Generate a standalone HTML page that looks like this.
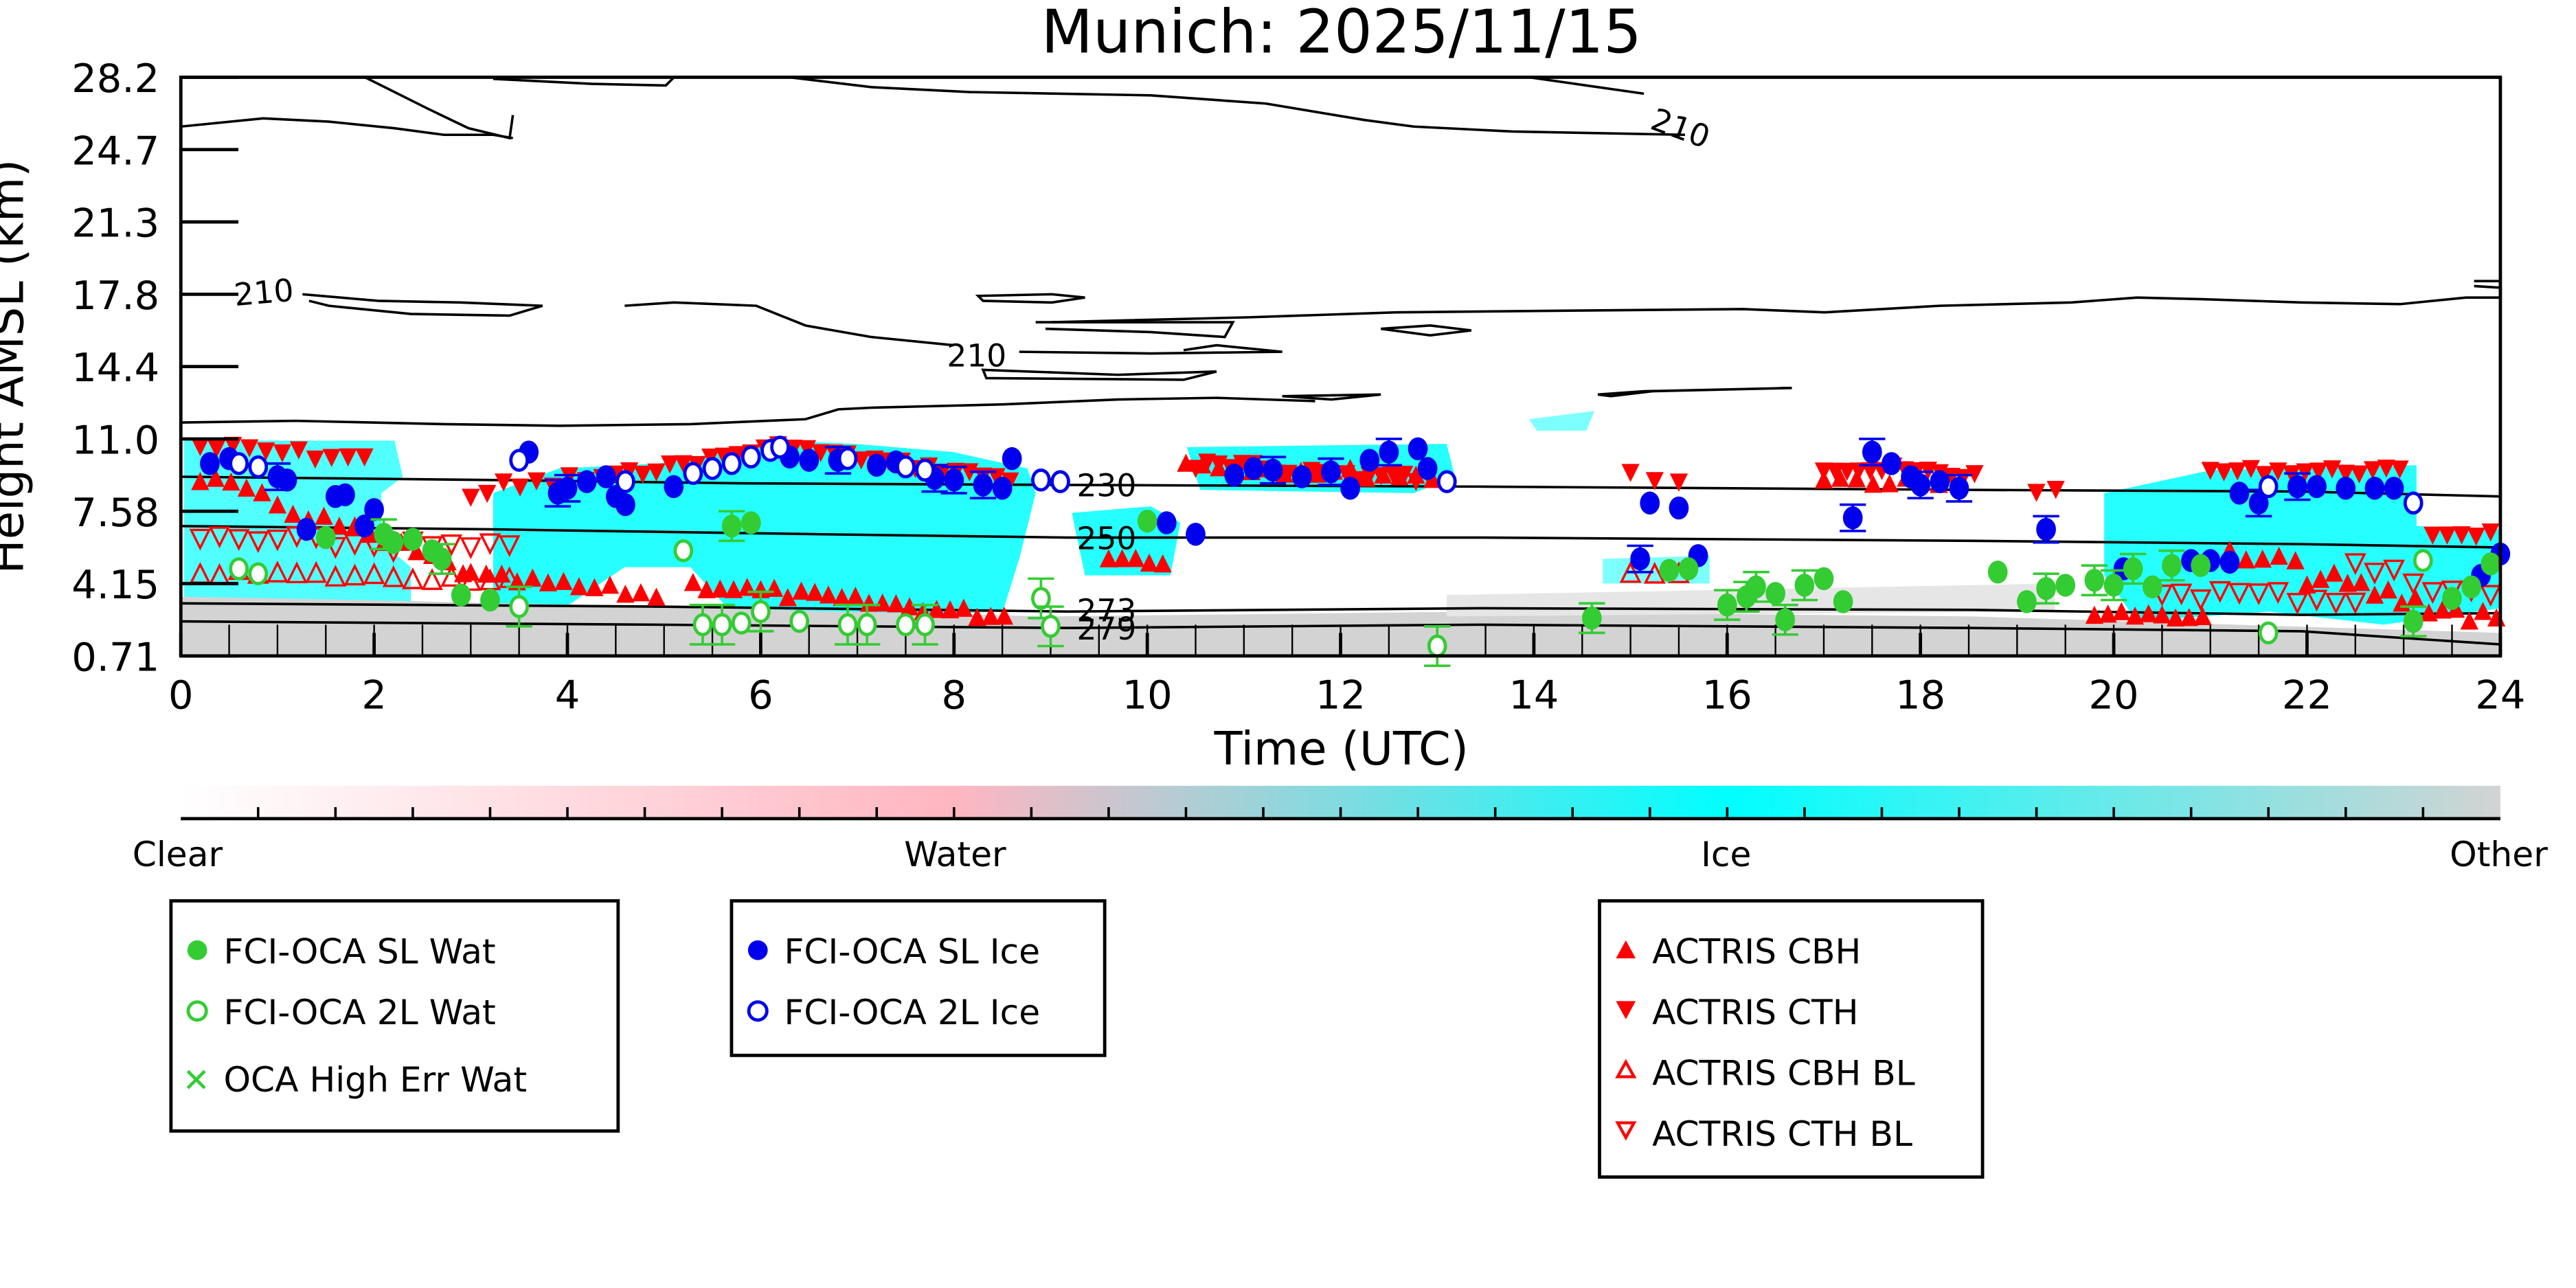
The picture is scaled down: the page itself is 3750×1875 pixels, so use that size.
<!DOCTYPE html>
<html><head><meta charset="utf-8"><style>
html,body{margin:0;padding:0;background:#fff}
svg{display:block}
text{font-family:"DejaVu Sans","Liberation Sans",sans-serif}
</style></head><body>
<svg id="s" xmlns="http://www.w3.org/2000/svg" width="3750" height="1875" viewBox="0 0 1567 783.5" preserveAspectRatio="none">
<defs>
<linearGradient id="cb" x1="0" x2="1" y1="0" y2="0">
<stop offset="0" stop-color="#ffffff"/>
<stop offset="0.333" stop-color="#ffb6c1"/>
<stop offset="0.5" stop-color="#80dbe0"/>
<stop offset="0.667" stop-color="#00ffff"/>
<stop offset="1" stop-color="#d3d3d3"/>
</linearGradient>
</defs>
<text x="816" y="32" font-size="36.5" text-anchor="middle">Munich: 2025/11/15</text>
<g fill="#00ffff" opacity="0.85">
<path d="M112,268 L240,268 L245,290 L232,300 L232,330 L250,345 L250,372 L112,372 Z" opacity="0.8"/>
<path d="M300,300 L340,285 L400,282 L440,275 L470,268 L520,270 L580,275 L625,285 L630,300 L620,340 L610,372 L450,378 L420,345 L380,345 L340,372 L300,372 Z"/>
<path d="M652,312 L700,308 L718,318 L712,350 L660,350 Z"/>
<path d="M722,272 L880,270 L885,290 L860,300 L730,298 Z"/>
<path d="M1280,300 L1345,286 L1470,283 L1470,320 L1521,322 L1521,370 L1450,380 L1380,372 L1300,378 L1280,350 Z"/>
<path d="M975,340 L1040,338 L1040,355 L975,355 Z" opacity="0.6"/>
<path d="M930,255 L970,250 L965,262 L935,262 Z" opacity="0.6"/>
</g>
<path d="M110,363 C300,366 500,372 640,375 L900,372 L1200,375 L1521,385 L1521,399 L110,399 Z" fill="#d3d3d3"/>
<path d="M880,362 L1250,355 L1250,372 L880,375 Z" fill="#e6e6e6"/>
<g id="bt" stroke="#000" stroke-width="1"></g>
<g fill="none" stroke="#000" stroke-width="1.5">
<path d="M110,77 L160,72 L200,74 L240,78 L270,82 L300,82 L312,84"/>
<path d="M222,47 L260,66 L285,78 L310,84 L312,70"/>
<path d="M300,48 L360,51 L405,52 L410,47"/>
<path d="M480,47 L530,53 L590,56 L700,58 L770,63 L830,73 L860,77 L920,80 L1025,82"/>
<path d="M930,47 L1000,57"/>
<path d="M184,179 L230,183 L280,184 L330,186 L310,192 L250,191 L200,186 L188,183"/>
<path d="M380,186 L410,184 L460,186 L490,198 L530,205 L580,210"/>
<path d="M620,214 L700,215 L780,214 L740,210 L720,213"/>
<path d="M598,225 L680,228 L740,226 L720,231 L600,230 Z"/>
<path d="M630,196 L700,196 L750,196 L745,205 L700,202 L636,200"/>
<path d="M640,196 L760,193 L850,190 L950,189 L1060,188 L1110,190 L1180,186 L1260,184 L1300,181 L1340,182 L1400,184 L1460,185 L1500,181 L1521,181"/>
<path d="M595,180 L640,179 L660,181 L640,184 L598,183 Z"/>
<path d="M840,200 L870,198 L895,201 L870,204 Z"/>
<path d="M780,241 L840,240 L810,243 Z"/>
<path d="M972,240 L1000,238 L1090,236 L1005,238 L980,241 Z"/>
<path d="M1505,171 L1521,171 M1505,174 L1521,175"/>
<path d="M110,257 L180,256 L270,258 L340,259 L420,258 L490,255 L510,249 L530,248 L610,246 L680,243 L740,242 L800,244"/>
<path d="M110,290 L300,292 L450,294 L650,295 L900,296 L1200,298 L1400,299 L1521,302"/>
<path d="M110,320 L300,322 L500,325 L650,327 L900,327 L1200,329 L1400,331 L1521,333"/>
<path d="M110,367 L400,369 L650,372 L900,370 L1200,371 L1400,374 L1521,373"/>
<path d="M110,378 L400,380 L650,382 L900,380 L1200,382 L1400,384 L1521,392"/>
</g>
<g font-size="19" fill="#000">
<text x="1003" y="78" transform="rotate(20 1003 78)">210</text>
<text x="143" y="186" transform="rotate(-5 143 186)">210</text>
<text x="576" y="223">210</text>
<text x="655" y="302">230</text>
<text x="655" y="334">250</text>
<text x="655" y="378">273</text>
<text x="655" y="389">279</text>
</g>
<g id="mk"></g>
<rect x="110" y="47" width="1411" height="352" fill="none" stroke="#000" stroke-width="2"/>
<g id="ax" stroke="#000" stroke-width="2"></g>
<g font-size="24" text-anchor="end" id="yl"></g>
<g font-size="24" text-anchor="middle" id="xl"></g>
<text x="816" y="465" font-size="28" text-anchor="middle">Time (UTC)</text>
<text x="0" y="0" font-size="28" text-anchor="middle" transform="translate(14,223) rotate(-90)">Height AMSL (km)</text>
<rect x="110" y="478" width="1411" height="20" fill="url(#cb)"/>
<line x1="110" y1="498" x2="1521" y2="498" stroke="#000" stroke-width="2"/>
<g id="ct" stroke="#000" stroke-width="1.5"></g>
<g font-size="21" text-anchor="middle">
<text x="108" y="527">Clear</text><text x="581" y="527">Water</text><text x="1050" y="527">Ice</text><text x="1520" y="527">Other</text>
</g>
<g fill="none" stroke="#000" stroke-width="2">
<rect x="104" y="548" width="272" height="140"/>
<rect x="445" y="548" width="227" height="94"/>
<rect x="973" y="548" width="233" height="168"/>
</g>
<g font-size="21">
<circle cx="120" cy="578" r="6" fill="#33cc33"/><text x="136" y="586">FCI-OCA SL Wat</text>
<circle cx="120" cy="615" r="5.5" fill="none" stroke="#33cc33" stroke-width="2"/><text x="136" y="623">FCI-OCA 2L Wat</text>
<text x="111" y="664" fill="#33cc33" font-size="20">✕</text><text x="136" y="664">OCA High Err Wat</text>
<circle cx="461" cy="578" r="6" fill="#0000ee"/><text x="477" y="586">FCI-OCA SL Ice</text>
<circle cx="461" cy="615" r="5.5" fill="none" stroke="#0000ee" stroke-width="2"/><text x="477" y="623">FCI-OCA 2L Ice</text>
<path d="M983,583 L989,572 L995,583 Z" fill="#ff0000"/><text x="1005" y="586">ACTRIS CBH</text>
<path d="M983,609 L989,620 L995,609 Z" fill="#ff0000"/><text x="1005" y="623">ACTRIS CTH</text>
<path d="M984,655 L989,646 L994,655 Z" fill="none" stroke="#ff0000" stroke-width="1.8"/><text x="1005" y="660">ACTRIS CBH BL</text>
<path d="M984,683 L989,692 L994,683 Z" fill="none" stroke="#ff0000" stroke-width="1.8"/><text x="1005" y="697">ACTRIS CTH BL</text>
</g>
<script>
var NS="http://www.w3.org/2000/svg";
function el(p,t,a,txt){var e=document.createElementNS(NS,t);for(var k in a)e.setAttribute(k,a[k]);if(txt)e.textContent=txt;p.appendChild(e);return e;}
var ax=document.getElementById('ax'),yl=document.getElementById('yl'),xl=document.getElementById('xl'),mk=document.getElementById('mk'),bt=document.getElementById('bt'),ct=document.getElementById('ct');
var ys=["28.2","24.7","21.3","17.8","14.4","11.0","7.58","4.15","0.71"];
for(var i=0;i<9;i++){var y=47+i*44;el(ax,'line',{x1:110,y1:y,x2:145,y2:y});el(yl,'text',{x:97,y:y+9},ys[i]);}
for(var h=0;h<=24;h+=2){var x=110+h*58.79;el(xl,'text',{x:x,y:431},String(h));el(ax,'line',{x1:x,y1:399,x2:x,y2:385});}
for(var h=0.5;h<24;h+=0.5){var x=110+h*58.79;el(bt,'line',{x1:x,y1:399,x2:x,y2:380});}
for(var i=1;i<30;i++){var x=110+i*1411/30;el(ct,'line',{x1:x,y1:498,x2:x,y2:491});}
var seed=7;function r(){seed=(seed*9301+49297)%233280;return seed/233280;}
function X(h){return 110+h*58.79;}
function tri(x,y,up,fill){var s=5.5;var d=up?('M'+(x-s)+','+(y+s)+' L'+x+','+(y-s)+' L'+(x+s)+','+(y+s)+' Z'):('M'+(x-s)+','+(y-s)+' L'+x+','+(y+s)+' L'+(x+s)+','+(y-s)+' Z');el(mk,'path',fill?{d:d,fill:'#ff0000'}:{d:d,fill:'none',stroke:'#ff0000','stroke-width':1.4});}
function run(h0,h1,y0,y1,up,fill,step,jit){for(var h=h0;h<=h1;h+=step){var y=y0+(y1-y0)*(h-h0)/Math.max(h1-h0,0.01)+(r()-0.5)*jit;tri(X(h),y,up,fill);}}
run(0.2,2,272,280,false,true,0.17,6);run(3,4.5,300,290,false,true,0.17,10);run(4.5,6.2,290,272,false,true,0.14,4);run(6.2,8.6,272,292,false,true,0.14,4);
run(10.5,13,284,292,false,true,0.12,8);run(15,15.5,290,290,false,true,0.25,10);run(17,18.6,284,290,false,true,0.12,6);run(19.2,19.4,298,300,false,true,0.2,4);run(21,23,287,287,false,true,0.14,4);run(23.3,24,325,325,false,true,0.15,4);
run(0.2,3,290,348,true,true,0.16,8);run(3,5,350,362,true,true,0.16,6);run(5.3,8.6,355,375,true,true,0.14,6);run(9.6,10.3,338,342,true,true,0.14,4);run(10.4,13,282,290,true,true,0.17,6);run(17,18.3,290,295,true,true,0.17,6);run(19.8,21,372,377,true,true,0.14,4);run(22,24,350,378,true,true,0.14,12);run(21.2,22,335,345,true,true,0.17,8);
run(0.2,3.5,328,335,false,false,0.2,8);run(0.2,3.5,348,352,true,false,0.2,4);run(15,15.5,350,350,true,false,0.25,4);run(20.5,22.5,360,365,false,false,0.2,8);run(22.5,24,345,365,false,false,0.2,10);
function dot(x,y,c,fill,err){if(err){el(mk,'line',{x1:x,y1:y-err,x2:x,y2:y+err,stroke:c,'stroke-width':1.5});el(mk,'line',{x1:x-8,y1:y-err,x2:x+8,y2:y-err,stroke:c,'stroke-width':1.5});el(mk,'line',{x1:x-8,y1:y+err,x2:x+8,y2:y+err,stroke:c,'stroke-width':1.5});}
el(mk,'ellipse',fill?{cx:x,cy:y,rx:6,ry:7,fill:c}:{cx:x,cy:y,rx:5,ry:6,fill:'#fff',stroke:c,'stroke-width':2});}
var B='#0000ee',G='#33cc33';
var blue=[[0.3,282],[0.5,279],[1,290],[1.1,292],[1.6,302],[1.7,301],[2,310],[1.3,322],[1.9,320],[3.6,275],[3.9,300],[4,297],[4.2,293],[4.4,290],[4.5,302],[4.6,307],[5.1,296],[6.3,278],[6.5,280],[6.8,280],[7.2,283],[7.4,281],[7.8,291],[8,292],[8.3,295],[8.6,279],[8.5,297],[10.2,318],[10.5,325],[10.9,289],[11.1,285],[11.3,286],[11.6,290],[11.9,287],[12.1,297],[12.3,280],[12.5,275],[12.8,273],[12.9,285],[15.1,340],[15.2,306],[15.5,309],[15.7,338],[17.3,315],[17.5,275],[17.7,282],[17.9,290],[18,295],[18.2,293],[18.4,297],[19.3,322],[20.1,346],[20.8,341],[21,341],[21.2,342],[21.3,300],[21.5,306],[21.9,296],[22.1,296],[22.4,297],[22.7,297],[22.9,297],[23.8,350],[24,337]];
blue.forEach(function(p){dot(X(p[0]),p[1],B,true,r()<0.3?8:0);});
var bo=[[0.6,282],[0.8,284],[3.5,280],[4.6,293],[5.3,288],[5.5,285],[5.7,282],[5.9,278],[6.1,274],[6.2,272],[6.9,279],[7.5,284],[7.7,286],[8.9,292],[9.1,293],[13.1,293],[21.6,296],[23.1,306]];
bo.forEach(function(p){dot(X(p[0]),p[1],B,false,0);});
var gr=[[2.1,325],[2.4,328],[2.6,335],[2.7,340],[2.9,362],[3.2,365],[5.7,320],[5.9,318],[10,317],[14.6,376],[15.4,347],[15.6,346],[16,368],[16.2,363],[16.3,357],[16.5,361],[16.6,377],[16.8,356],[17,352],[17.2,366],[18.8,348],[19.1,366],[19.3,358],[19.5,356],[19.8,353],[20,356],[20.2,346],[20.4,357],[20.6,344],[20.9,344],[23.1,378],[23.5,364],[23.7,357],[23.9,343],[1.5,327],[2.2,330]];
gr.forEach(function(p){dot(X(p[0]),p[1],G,true,r()<0.3?9:0);});
var go=[[0.6,346],[0.8,349],[3.5,369],[5.2,335],[5.4,380],[5.6,380],[5.8,379],[6,372],[6.4,378],[6.9,380],[7.1,380],[7.5,380],[7.7,380],[8.9,364],[9,381],[13,393],[21.6,385],[23.2,341]];
go.forEach(function(p){dot(X(p[0]),p[1],G,false,r()<0.5?12:0);});
</script>
</svg>
</body></html>
